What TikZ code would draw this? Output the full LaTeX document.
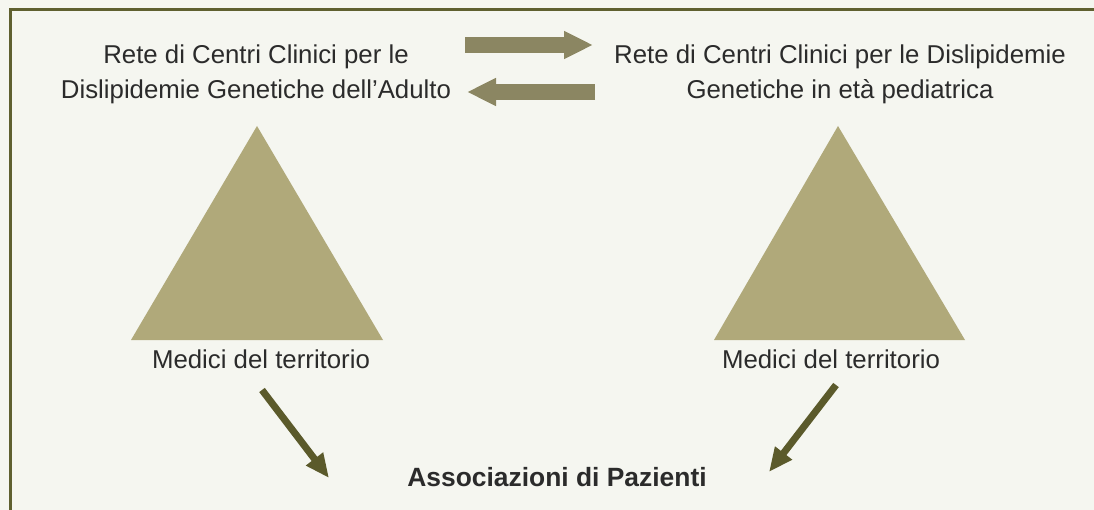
\documentclass[tikz,border=0pt]{standalone}
\usepackage{fontspec}
\setmainfont{Liberation Sans}
\usetikzlibrary{arrows.meta,positioning}
\definecolor{bgcol}{HTML}{F5F6F0}
\definecolor{framecol}{HTML}{5F6030}
\definecolor{tricol}{HTML}{B0A97A}
\definecolor{harrcol}{HTML}{8B8662}
\definecolor{darrcol}{HTML}{5B5A2B}
\definecolor{txtcol}{HTML}{2B2B2B}

\begin{document}
\begin{tikzpicture}[x=1pt,y=-1pt,font=\fontsize{25.8}{35}\selectfont,
    txt/.style={align=center,text=txtcol,inner sep=0pt},
    harr/.style={harrcol,line width=16pt,-{Triangle[length=29pt,width=26pt]}},
    darr/.style={darrcol,line width=7pt,-{Triangle[length=24pt,width=20pt]}}]
    \fill[bgcol](0,0)rectangle(1094,510);
    \useasboundingbox(0,0)rectangle(1094,510);
    \draw[framecol,line width=2.7pt](10.7,510)|-(1094,9.7);
    % networks
    \node[txt](adult) at (256,74){Rete di Centri Clinici per le\\Dislipidemie Genetiche dell’Adulto};
    \node[txt](child) at (840,74){Rete di Centri Clinici per le Dislipidemie\\Genetiche in età pediatrica};
    \fill[tricol](257,126)--(383,340)--(131,340)--cycle;
    \fill[tricol](838,126)--(965,340)--(714,340)--cycle;
    \node[txt](medA) at (261,359){Medici del territorio};
    \node[txt](medC) at (831,359){Medici del territorio};
    \node[txt,font=\fontsize{26.4}{30}\selectfont\bfseries](assoc) at (557,477){Associazioni di Pazienti};
    % arrows
    \coordinate(h1) at (465,45); \coordinate(h2) at (593,45);
    \coordinate(h3) at (595,92); \coordinate(h4) at (467,92);
    \draw[harr](h1)--(h2);
    \draw[harr](h3)--(h4);
    \coordinate(dA) at (262,390); \coordinate(aA) at (329,478);
    \coordinate(dC) at (836,385); \coordinate(aC) at (769,472);
    \draw[darr](dA)--(aA);
    \draw[darr](dC)--(aC);
\end{tikzpicture}
\end{document}
